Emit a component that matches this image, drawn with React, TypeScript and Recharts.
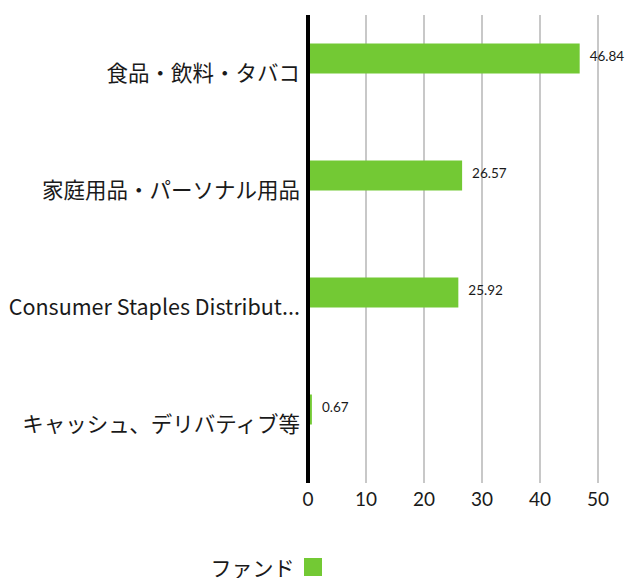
import React from "react";
import { BarChart, Bar, XAxis, YAxis, CartesianGrid, Legend } from "recharts";

const categories = [
  "食品・飲料・タバコ",
  "家庭用品・パーソナル用品",
  "Consumer Staples Distribut...",
  "キャッシュ、デリバティブ等",
];
const fundValues = [46.84, 26.57, 25.92, 0.67];
const xTicks = [0, 10, 20, 30, 40, 50];
const seriesName = "ファンド";

const data = categories.map((name, i) => ({ name, fund: fundValues[i] }));

const GREEN = "#73C934";
const TEXT = "#1a1a1a";
const BAR_SHIFT = -15.5;

const CategoryTick = (props: any) => {
  const { x, y, payload } = props;
  return (
    <text
      x={x}
      y={y}
      dy="0.36em"
      textAnchor="end"
      fontSize={21.5}
      fill={TEXT}
      fontFamily="'Noto Sans CJK JP', 'Noto Sans', sans-serif"
    >
      {payload.value}
    </text>
  );
};

const ValueTick = (props: any) => {
  const { x, y, payload } = props;
  return (
    <text
      x={x}
      y={y}
      dy="0.71em"
      textAnchor="middle"
      fontSize={19}
      fill={TEXT}
      fontFamily="Lato, sans-serif"
    >
      {payload.value}
    </text>
  );
};

const ShiftedBar = (props: any) => {
  const { x, y, width, height, fill, value } = props;
  const yy = y + BAR_SHIFT;
  return (
    <g>
      <rect x={x} y={yy} width={Math.max(width, 0)} height={height} fill={fill} />
      <text
        x={x + width + 10}
        y={yy + height / 2 - 2}
        dy="0.35em"
        fontSize={13.5}
        fill={TEXT}
        fontFamily="Lato, sans-serif"
      >
        {value}
      </text>
    </g>
  );
};

const LegendContent = () => (
  <div
    style={{
      height: 45,
      display: "flex",
      justifyContent: "center",
      alignItems: "flex-end",
    }}
  >
    <div style={{ display: "flex", alignItems: "center", marginLeft: -66, height: 22, marginBottom: 0 }}>
      <span
        style={{
          fontFamily: "'Noto Sans CJK JP', sans-serif",
          fontSize: 21,
          color: TEXT,
          marginRight: 9,
          lineHeight: "22px",
        }}
      >
        {seriesName}
      </span>
      <span style={{ width: 18, height: 18, background: GREEN, display: "inline-block" }} />
    </div>
  </div>
);

export default function App() {
  return (
    <div style={{ position: "absolute", left: 0, top: 0, width: 630, height: 578, background: "#fff" }}>
      <BarChart
        width={630}
        height={578}
        data={data}
        layout="vertical"
        margin={{ top: 15, right: 32, bottom: 0, left: 0 }}
        barSize={30}
      >
        <CartesianGrid horizontal={false} vertical stroke="#c8c8c8" strokeWidth={2} />
        <XAxis
          type="number"
          domain={[0, 50]}
          ticks={xTicks}
          axisLine={false}
          tickLine={false}
          height={50}
          tickMargin={4}
          tick={<ValueTick />}
        />
        <YAxis
          type="category"
          dataKey="name"
          width={308}
          axisLine={{ stroke: "#000", strokeWidth: 4 }}
          tickLine={false}
          tick={<CategoryTick />}
          interval={0}
        />
        <Legend verticalAlign="bottom" content={<LegendContent />} />
        <Bar dataKey="fund" name={seriesName} fill={GREEN} isAnimationActive={false} shape={<ShiftedBar />} />
      </BarChart>
    </div>
  );
}
